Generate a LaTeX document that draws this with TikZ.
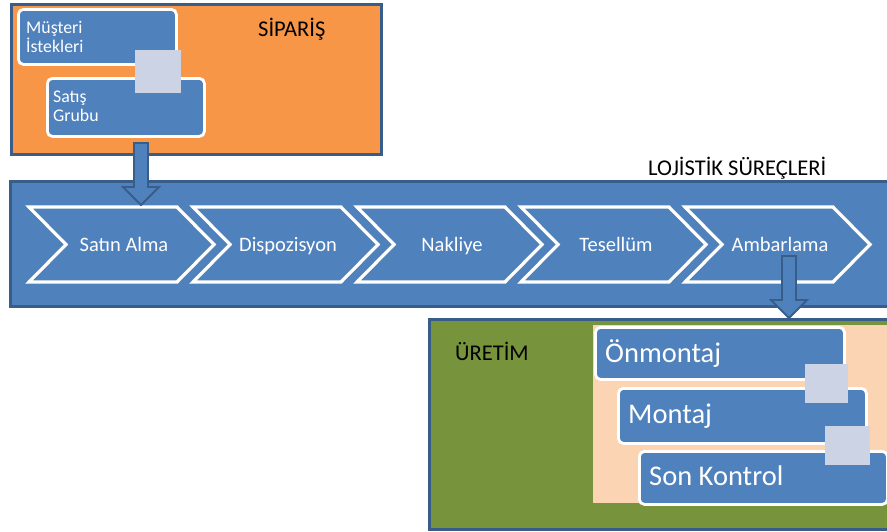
\documentclass[tikz,border=0pt]{standalone}
\usepackage{fontspec}
\setmainfont{Carlito}
\usetikzlibrary{calc}
\definecolor{ordercol}{HTML}{F79646}
\definecolor{stepblue}{HTML}{4F81BD}
\definecolor{edgeblue}{HTML}{385D8A}
\definecolor{prodgreen}{HTML}{77933C}
\definecolor{peach}{HTML}{FBD4B4}
\definecolor{tile}{HTML}{CBD3E4}
\tikzset{
  panel/.style={draw=edgeblue, line width=2.6pt, anchor=north west, inner sep=0pt},
  card/.style={draw=white, line width=2.8pt, fill=stepblue, rounded corners=5pt, anchor=north west, inner sep=0pt},
  joint/.style={fill=tile, anchor=north west, inner sep=0pt},
  chevron/.style={draw=white, line width=3.2pt, fill=stepblue, line join=miter},
  chevtext/.style={text=white, font=\fontsize{20.5}{24}\selectfont, anchor=base, inner sep=0pt},
  smalltext/.style={text=white, font=\fontsize{17.8}{20}\selectfont, anchor=base west, inner sep=0pt},
  bigtext/.style={text=white, font=\fontsize{28.5}{32}\selectfont, anchor=base west, inner sep=0pt},
  title/.style={text=black, font=\fontsize{22.5}{26}\selectfont, anchor=base west, inner sep=0pt},
  flow/.style={fill=stepblue, draw=edgeblue, line width=1.8pt, line join=miter}
}
\newcommand\flowarrow[2]{%
  \draw[flow] ($(#1)+(-7,0)$) -- ($(#2)+(-7,-18)$) -- ($(#2)+(-18,-18)$) -- (#2)
    -- ($(#2)+(18,-18)$) -- ($(#2)+(7,-18)$) -- ($(#1)+(7,0)$) -- cycle;}
\begin{document}
\begin{tikzpicture}[x=1pt,y=-1pt]
\useasboundingbox (0,0) rectangle (887,531);
\fill[white] (0,0) rectangle (887,531);

% order panel
\node[panel, fill=ordercol, minimum width=370pt, minimum height=150pt] (siparis) at (10,3) {};
\node[title] (siparislbl) at (258,36) {SİPARİŞ};
\node[card, minimum width=158pt, minimum height=55pt] (musteri) at (17,8) {};
\node[card, minimum width=157pt, minimum height=58pt] (satis) at (46,77) {};
\node[joint, minimum width=46pt, minimum height=43pt] (j0) at (135,50) {};
\node[smalltext] (musterit1) at (26,33) {Müşteri};
\node[smalltext] (musterit2) at (26,52) {İstekleri};
\node[smalltext] (satist1) at (53,102) {Satış};
\node[smalltext] (satist2) at (53,121) {Grubu};

% logistics band
\node[panel, fill=stepblue, minimum width=900pt, minimum height=125pt] (lojistik) at (9,180) {};
\node[title] (lojistiklbl) at (648,175) {LOJİSTİK SÜREÇLERİ};
\foreach \x/\nm/\lab in {29/c1/Satın Alma, 193/c2/Dispozisyon, 357/c3/Nakliye, 521/c4/Tesellüm, 685/c5/Ambarlama}{
  \draw[chevron] (\x,207) -- ++(148,0) -- ++(37,37.5) -- ++(-37,37.5) -- ++(-148,0) -- ++(37,-37.5) -- cycle;
  \node[chevtext] (\nm) at (\x+95,251) {\lab};
}

% production panel
\node[panel, fill=prodgreen, minimum width=480pt, minimum height=210pt] (uretim) at (428,318) {};
\fill[peach] (593,325) rectangle (890,503);
\node[title] (uretimlbl) at (455,360) {ÜRETİM};
\node[card, minimum width=249pt, minimum height=52pt] (onmontaj) at (594,326) {};
\node[card, minimum width=248pt, minimum height=55pt] (montaj) at (617,387) {};
\node[card, minimum width=248pt, minimum height=53pt] (sonkontrol) at (638,450) {};
\node[joint, minimum width=43pt, minimum height=39pt] (j1) at (805,364) {};
\node[joint, minimum width=45pt, minimum height=39pt] (j2) at (825,426) {};
\node[bigtext] (onmontajt) at (605,362) {Önmontaj};
\node[bigtext] (montajt) at (628,423) {Montaj};
\node[bigtext] (sonkontrolt) at (649,485) {Son Kontrol};

% flow arrows between the stages
\coordinate (a1s) at (141,143);
\coordinate (a1e) at (141,205);
\coordinate (a2s) at (789,256);
\coordinate (a2e) at (789,318);
\flowarrow{a1s}{a1e}
\flowarrow{a2s}{a2e}
\end{tikzpicture}
\end{document}
